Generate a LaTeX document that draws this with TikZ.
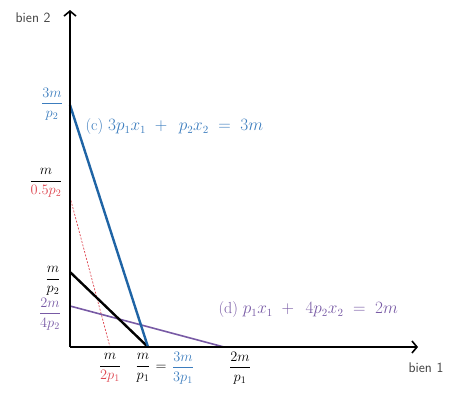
\documentclass[tikz,border=0pt]{standalone}
\usepackage{amsmath}
\usetikzlibrary{arrows.meta}
\definecolor{lineblue}{RGB}{31,100,165}
\definecolor{textblue}{RGB}{60,125,190}
\definecolor{linered}{RGB}{222,70,80}
\definecolor{linepurple}{RGB}{120,90,165}
\tikzset{
    axis/.style={line width=2.2pt, -{Straight Barb[length=5pt,width=12pt,line width=1.6pt]}},
    budgetc/.style={lineblue, line width=2.4pt},
    budgeta/.style={black, line width=2.4pt},
    budgetb/.style={linered, dash pattern=on 2pt off 1.5pt, line width=0.7pt},
    budgetd/.style={linepurple, line width=1.6pt},
    frac/.style={inner sep=0pt, font=\Large},
    axislabel/.style={font=\sffamily\fontsize{14}{16}\selectfont, text=black!75},
    eqlabel/.style={font=\fontsize{16}{18}\selectfont, anchor=west}
}

\begin{document}
\begin{tikzpicture}[x=1pt,y=-1pt]
    \useasboundingbox (0,0) rectangle (449,394);
    % intercepts
    \coordinate (O) at (70,347);
    \coordinate (ytop) at (70,10);
    \coordinate (xend) at (418,347);
    \coordinate (yc) at (70,105);
    \coordinate (yb) at (70,197);
    \coordinate (ya) at (70,272);
    \coordinate (yd) at (70,306);
    \coordinate (xb) at (110,347);
    \coordinate (xa) at (148,347);
    \coordinate (xd) at (224,347);
    % budget lines
    \draw[budgetb] (yb) -- (xb);
    \draw[budgetd] (yd) -- (xd);
    \draw[budgeta] (ya) -- (xa);
    \draw[budgetc] (yc) -- (xa);
    % axes
    \draw[axis] (O) -- (ytop);
    \draw[axis] (O) -- (xend);
    \node[axislabel, anchor=east] (bien2) at (54,18) {bien 2};
    \node[axislabel] (bien1) at (426,368) {bien 1};
    % vertical intercept labels
    \node[frac, text=textblue] (lc) at (52,104) {$\dfrac{3m}{p_2}$};
    \node[frac] (lb) at (46,183) {$\dfrac{m}{\textcolor{linered}{0.5p_2}}$};
    \node[frac] (la) at (53,281) {$\dfrac{m}{p_2}$};
    \node[frac, text=linepurple] (ld) at (50,314) {$\dfrac{2m}{4p_2}$};
    % horizontal intercept labels
    \node[frac] (lxb) at (110,368) {$\dfrac{m}{\textcolor{linered}{2p_1}}$};
    \node[frac] (lxa) at (143,368) {$\dfrac{m}{p_1}$};
    \node[frac] (eq) at (161,368) {$=$};
    \node[frac, text=textblue] (lxc) at (183,368) {$\dfrac{3m}{3p_1}$};
    \node[frac] (lxd) at (240,368) {$\dfrac{2m}{p_1}$};
    % equations
    \node[eqlabel, text=textblue] (eqc) at (82,127) {(c) $3p_1x_1 \;+\;\, p_2x_2 \;=\; 3m$};
    \node[eqlabel, text=linepurple] (eqd) at (215,310) {(d) $p_1x_1 \;+\;\, 4p_2x_2 \;=\; 2m$};
\end{tikzpicture}
\end{document}
